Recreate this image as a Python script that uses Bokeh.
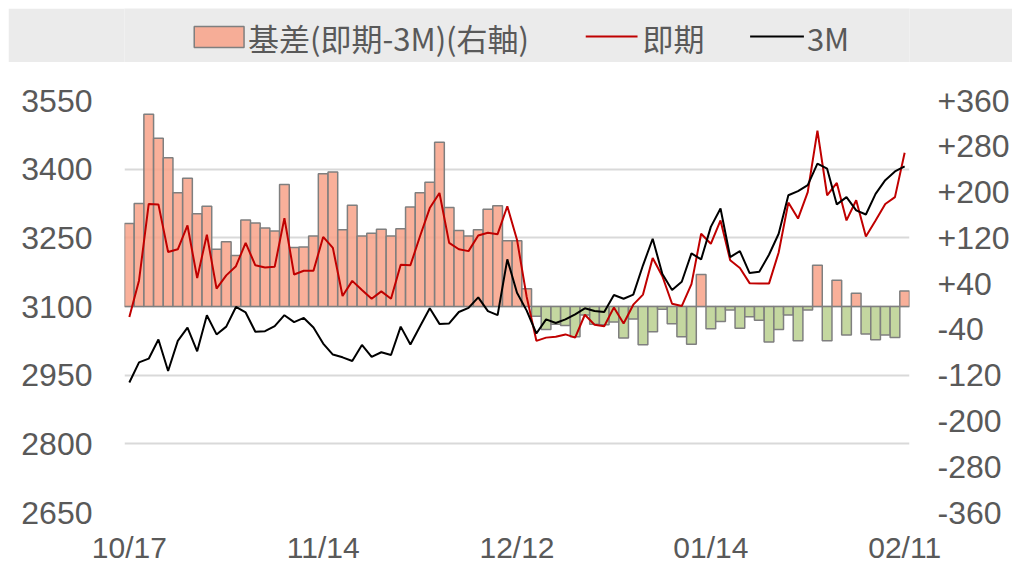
from bokeh.plotting import figure
from bokeh.models import Range1d, LinearAxis, FixedTicker, ColumnDataSource
from bokeh.layouts import column
from bokeh.embed import file_html
from bokeh.resources import INLINE
from bokeh.core.properties import value

dates = [
    "10/17", "10/18", "10/21", "10/22", "10/23", "10/24", "10/25", "10/28", "10/29", "10/30", "10/31",
    "11/01", "11/04", "11/05", "11/06", "11/07", "11/08", "11/11", "11/12", "11/13", "11/14", "11/15",
    "11/18", "11/19", "11/20", "11/21", "11/22", "11/25", "11/26", "11/27", "11/28", "11/29",
    "12/02", "12/03", "12/04", "12/05", "12/06", "12/09", "12/10", "12/11", "12/12", "12/13",
    "12/16", "12/17", "12/18", "12/19", "12/20", "12/23", "12/24", "12/27", "12/30", "12/31",
    "01/02", "01/03", "01/06", "01/07", "01/08", "01/09", "01/10", "01/13", "01/14", "01/15",
    "01/16", "01/17", "01/20", "01/21", "01/22", "01/23", "01/24", "01/27", "01/28", "01/29",
    "01/30", "01/31", "02/03", "02/04", "02/05", "02/06", "02/07", "02/10", "02/11",
]

spot = [
    3077, 3157, 3324, 3323, 3219, 3225, 3277, 3162, 3257, 3139, 3168,
    3188, 3239, 3190, 3185, 3187, 3293, 3170, 3178, 3178, 3252, 3228,
    3123, 3156, 3136, 3117, 3133, 3117, 3191, 3190, 3254, 3315,
    3348, 3239, 3225, 3221, 3255, 3261, 3258, 3319, 3246, 3121,
    3025, 3032, 3034, 3039, 3032, 3082, 3060, 3057, 3098, 3063,
    3104, 3126, 3206, 3166, 3106, 3101, 3149, 3259, 3237, 3288,
    3201, 3184, 3151, 3150, 3150, 3218, 3327, 3292, 3350, 3484,
    3343, 3370, 3288, 3332, 3253, 3288, 3324, 3339, 3436,
]

m3 = [
    2934, 2978, 2986, 3028, 2959, 3025, 3054, 3002, 3081, 3039, 3056,
    3099, 3087, 3045, 3046, 3057, 3081, 3066, 3075, 3054, 3019, 2995,
    2989, 2981, 3016, 2990, 3000, 2994, 3056, 3017, 3057, 3096,
    3062, 3063, 3088, 3097, 3120, 3090, 3081, 3203, 3130, 3091,
    3041, 3072, 3064, 3072, 3083, 3096, 3090, 3088, 3125, 3117,
    3126, 3190, 3248, 3171, 3136, 3154, 3216, 3203, 3274, 3314,
    3208, 3221, 3173, 3176, 3213, 3259, 3343, 3352, 3365, 3412,
    3401, 3323, 3339, 3310, 3301, 3346, 3376, 3395, 3406,
]

basis = [
    145, 180, 336, 294, 260, 199, 224, 162, 175, 100, 113,
    89, 151, 146, 137, 132, 213, 103, 104, 123, 232, 235,
    134, 177, 123, 128, 135, 123, 136, 174, 199, 217,
    287, 173, 133, 123, 134, 170, 176, 115, 115, 31,
    -17, -40, -31, -33, -53, -15, -31, -32, -27, -55,
    -22, -67, -44, -5, -30, -53, -66, 56, -39, -26,
    -6, -38, -18, -24, -62, -40, -15, -60, -6, 72,
    -60, 46, -50, 23, -48, -58, -50, -54, 27,
]

x_ticks = [0, 20, 40, 60, 80]
left_ticks = [2650, 2800, 2950, 3100, 3250, 3400, 3550]
right_ticks = [-360, -280, -200, -120, -40, 40, 120, 200, 280, 360]

legend_labels = ["基差(即期-3M)(右軸)", "即期", "3M"]

POS = "#F8A288"
NEG = "#BAD08F"
RED = "#C00000"
TXT = "#595959"
FONT = "Liberation Sans"

idx = list(range(len(dates)))
src = ColumnDataSource(dict(
    x=idx, spot=spot, m3=m3, basis=basis,
    color=[POS if b >= 0 else NEG for b in basis],
))

p = figure(width=1004, height=504,
           x_range=Range1d(-0.5, len(dates) - 0.5),
           y_range=Range1d(2650, 3550),
           output_backend="svg", toolbar_location=None,
           min_border_left=116, min_border_right=100,
           min_border_top=38, min_border_bottom=54)
p.extra_y_ranges = {"basis": Range1d(-360, 360)}
p.outline_line_color = None
p.background_fill_color = "white"
p.border_fill_color = "white"

p.vbar(x="x", top="basis", bottom=0, width=1.0, source=src,
       fill_color="color", fill_alpha=0.85,
       line_color="#7F7F7F", line_width=1.5, y_range_name="basis")
p.line(x="x", y="spot", source=src, line_color=RED, line_width=2)
p.line(x="x", y="m3", source=src, line_color="black", line_width=2)

ra = LinearAxis(y_range_name="basis")
p.add_layout(ra, "right")

for ax in [p.xaxis[0], p.yaxis[0], ra]:
    ax.axis_line_color = None
    ax.major_tick_line_color = None
    ax.minor_tick_line_color = None
    ax.major_tick_out = 0
    ax.major_tick_in = 0
    ax.minor_tick_out = 0
    ax.minor_tick_in = 0
    ax.major_label_text_color = TXT
    ax.major_label_text_font = FONT

p.xaxis[0].major_label_text_font_size = "30px"
p.yaxis[0].major_label_text_font_size = "32px"
ra.major_label_text_font_size = "32px"

p.xaxis[0].ticker = FixedTicker(ticks=x_ticks)
p.xaxis[0].major_label_overrides = {i: dates[i] for i in x_ticks}
p.xaxis[0].major_label_standoff = 18
p.yaxis[0].ticker = FixedTicker(ticks=left_ticks)
p.yaxis[0].major_label_standoff = 32
ra.ticker = FixedTicker(ticks=right_ticks)
ra.major_label_overrides = {t: ("+%d" % t if t > 0 else "%d" % t) for t in right_ticks}
ra.major_label_standoff = 28

p.xgrid.visible = False
p.ygrid.ticker = FixedTicker(ticks=left_ticks)
p.ygrid.grid_line_color = "#D9D9D9"
p.ygrid.grid_line_width = 2

# legend band (x in page pixels; its frame is aligned with the main plot frame)
lg = figure(width=1004, height=54, x_range=Range1d(124, 912), y_range=Range1d(62, 8),
            output_backend="svg", toolbar_location=None,
            x_axis_type=None, y_axis_type=None,
            min_border_left=0, min_border_right=0, min_border_top=0, min_border_bottom=0)
lg.background_fill_color = "#EBEBEB"
lg.border_fill_color = "#EBEBEB"
lg.outline_line_color = None
lg.grid.visible = False

lg.quad(left=[194], right=[244], top=[26], bottom=[47], fill_color=POS, fill_alpha=0.85,
        line_color="#7F7F7F", line_width=1.5)
lg.line(x=[587, 639], y=[36, 36], line_color=RED, line_width=2)
lg.line(x=[752, 806], y=[36, 36], line_color="black", line_width=2)
lg.text(x=[248, 644, 809], y=[37, 37, 37], text=legend_labels,
        text_font=value("Noto Sans CJK TC"), text_font_size="31px",
        text_color=TXT, text_baseline="middle", text_align="left")

layout = column(lg, p, spacing=0, margin=(8, 8, 0, 8))
open("out.html", "w").write(file_html(layout, INLINE))
